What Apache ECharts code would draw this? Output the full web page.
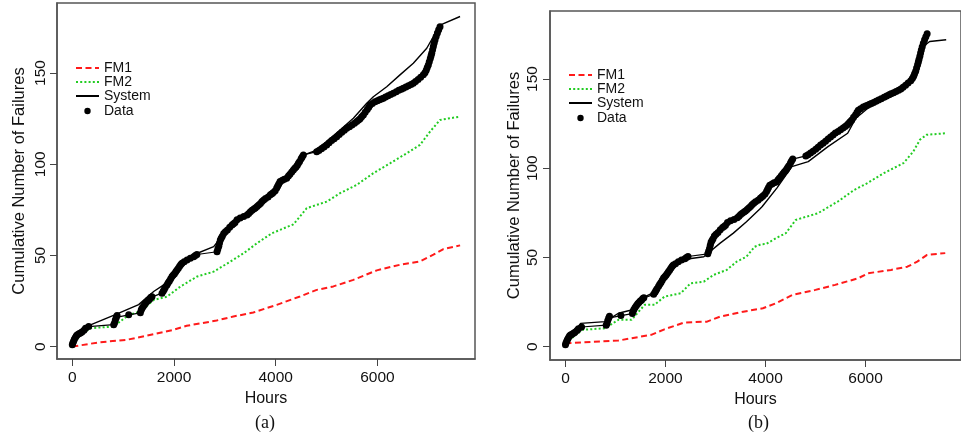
<!DOCTYPE html>
<html>
<head>
<meta charset="utf-8">
<script src="https://cdn.jsdelivr.net/npm/echarts@6/dist/echarts.min.js"></script>
<style>
html,body{margin:0;padding:0;background:#fff;}
#c{width:961px;height:439px;}
</style>
</head>
<body>
<div id="c"></div>
<script>
// ---- Data ----
const dataHours = [0, 10, 25, 40, 60, 80, 100, 130, 160, 190, 230, 260, 322,
  814, 830, 846, 865, 880, 1109, 1338, 1355, 1371, 1395, 1420, 1445, 1469, 1495, 1520, 1545, 1567,
  1764, 1790, 1810, 1830, 1862, 1885, 1910, 1935, 1961, 1985, 2010, 2035, 2059, 2085, 2110, 2135, 2157, 2200, 2256, 2320, 2387, 2420, 2450,
  2846, 2862, 2880, 2895, 2911, 2930, 2950, 2977, 3010, 3050, 3095, 3141, 3170, 3200, 3239, 3300, 3370, 3436, 3470, 3502, 3535, 3570, 3600, 3633, 3665, 3700, 3730, 3764, 3800, 3850, 3895, 3925, 3953, 3990, 4020, 4040, 4060, 4085, 4130, 4170, 4216, 4250, 4280, 4315, 4347, 4375, 4400, 4425, 4446, 4470, 4500, 4520, 4544,
  4806, 4850, 4900, 4950, 5003, 5050, 5100, 5150, 5200, 5250, 5300, 5350, 5396, 5450, 5500, 5550, 5593, 5630, 5660, 5690, 5724, 5760, 5800, 5830, 5855, 5900, 5953,
  6000, 6040, 6080, 6117, 6160, 6210, 6260, 6313, 6370, 6420, 6470, 6510, 6560, 6610, 6660, 6706, 6750, 6800, 6850, 6903, 6935, 6960, 6980, 7001, 7020, 7040, 7055, 7068, 7085, 7100, 7115, 7133, 7155, 7180, 7205, 7231];
const dataFailures = [1, 2, 3, 4, 5, 6, 6.5, 7, 7.5, 8, 9, 10, 11,
  12, 13, 14.6, 16, 17, 17.4, 18.5, 20, 21, 22, 23, 24, 24.7, 25.5, 26, 27, 27.4,
  29.3, 30.5, 31.5, 32.5, 33.8, 35, 36, 37.2, 38.4, 39.2, 40, 41, 42, 43, 44, 45, 45.7, 46.5, 47.5, 48.5, 49.3, 50, 50.5,
  52, 53.5, 55, 56.8, 58.5, 59.5, 60.5, 62, 63, 64, 65.5, 66.7, 67.3, 68, 69.5, 70.5, 71.3, 72.2, 73, 74, 74.8, 75.5, 76, 76.8, 77.7, 78.5, 79.5, 80.4, 81.2, 82, 83.2, 83.8, 84.5, 85.5, 87, 88, 89.2, 90.5, 91.2, 91.8, 92.3, 93.5, 94.5, 95.8, 96.9, 97.8, 98.5, 99.5, 100.5, 101.5, 103, 104, 105.1,
  106.9, 107.5, 108.5, 109.5, 110.6, 111.8, 113, 114, 115.1, 116.3, 117.5, 118.6, 119.7, 120.6, 121.5, 122.5, 123.4, 124.2, 125, 126, 127, 128.5, 130, 131.3, 132.5, 133.3, 134.3,
  134.8, 135.3, 135.8, 136.2, 136.8, 137.5, 138.2, 138.9, 139.7, 140.5, 141.1, 141.7, 142.3, 143, 143.7, 144.4, 145.4, 146.5, 147.7, 149, 150.2, 151.5, 153, 154.4, 156.2, 158, 159.5, 160.9, 162.7, 164.5, 166.3, 168.1, 170, 172, 173.7, 175.4];

// Panel (a)
const fm1aHours = [0, 544, 1069, 1593, 1987, 2249, 2839, 3167, 3560, 4020, 4478, 4806, 5134, 5528, 5987, 6446, 6839, 7101, 7298, 7626];
const fm1aVals  = [0, 2.4, 3.7, 6.8, 9.2, 11.4, 14.3, 16.5, 18.7, 22.9, 27.5, 31.1, 33, 36.6, 41.8, 44.9, 46.7, 50.4, 53.5, 55.5];
const fm2aHours = [0, 157, 354, 814, 1109, 1338, 1600, 1862, 2124, 2452, 2780, 3108, 3370, 3633, 3928, 4347, 4610, 5003, 5265, 5593, 5920, 6248, 6576, 6838, 7035, 7231, 7625];
const fm2aVals  = [0.5, 6.4, 10.1, 11, 17.4, 19.2, 25.6, 27.4, 32.9, 38.4, 41.1, 46.6, 51.2, 56.7, 62.2, 67, 75.9, 79.5, 84.1, 88.7, 95.1, 100.5, 106, 110.6, 117.9, 124.3, 126.1];
const sysaHours = [0, 100, 322, 846, 1305, 1600, 1797, 1960, 2150, 2400, 2780, 2900, 3100, 3400, 3700, 4000, 4300, 4544, 4740, 5003, 5265, 5527, 5790, 5920, 6183, 6444, 6706, 6970, 7231, 7625];
const sysaVals  = [0, 6, 11.5, 17.5, 23, 30.2, 33.8, 39, 45, 50.5, 54.8, 59, 65, 72, 79, 85, 95, 105, 107, 112.4, 118.8, 125.2, 133.4, 137, 142.5, 149, 155.4, 163.6, 176.3, 181];

// Panel (b)
const fm1bHours = [0, 1058, 1714, 1978, 2372, 2831, 3093, 3554, 3948, 4210, 4539, 4998, 5392, 5851, 6048, 6509, 6836, 7033, 7230, 7593];
const fm1bVals  = [1.9, 3.4, 6.6, 9.7, 13.5, 14, 16.8, 19.6, 21.5, 24.3, 29, 31.8, 34.6, 38.3, 41.1, 43, 44.8, 47.6, 51.4, 52.4];
const fm2bHours = [0, 335, 796, 1058, 1320, 1584, 1781, 1978, 2305, 2502, 2766, 2963, 3225, 3422, 3619, 3783, 3914, 4013, 4210, 4407, 4604, 5051, 5445, 5772, 6035, 6363, 6757, 6954, 7086, 7218, 7612];
const fm2bVals  = [2, 9.4, 10.3, 15, 15, 23.4, 23.4, 28, 29.9, 35.5, 36.4, 40.2, 43, 47.6, 50.4, 56, 57.4, 57.5, 60.8, 63.6, 71, 74.8, 81.3, 87.8, 91.6, 97.2, 102.8, 109.3, 115.9, 118.7, 119.6];
const sysbHours = [0, 303, 796, 1058, 1320, 1517, 1781, 1978, 2141, 2403, 2766, 3093, 3357, 3619, 3881, 3934, 4230, 4525, 4854, 5248, 5642, 5806, 6166, 6430, 6725, 6988, 7120, 7185, 7283, 7612];
const sysbVals  = [0, 13, 14, 18.7, 20.5, 27, 30.5, 38, 44, 49, 50.4, 58, 63.6, 70, 77, 78.5, 89, 100.9, 103.7, 112.1, 119.6, 128, 136.4, 139, 145, 150, 163, 169, 171, 172];

// Axis ticks and labels
const xTicks = [0, 2000, 4000, 6000];
const yTicks = [0, 50, 100, 150];
const seriesNames = ['FM1', 'FM2', 'System', 'Data'];
const panelLabels = ['(a)', '(b)'];
const xName = 'Hours';
const yName = 'Cumulative Number of Failures';

// ---- Build ----
const zip = (xs, ys) => xs.map((x, i) => [x, ys[i]]);
const FONT = '"Liberation Sans", Arial, sans-serif';
const RED = '#ff1a1a', GREEN = '#22cc22', BLACK = '#000000';

function xAxis(gi, min, max) {
  return {
    type: 'value', gridIndex: gi, min: min, max: max, position: 'bottom',
    name: xName, nameLocation: 'middle', nameGap: 30,
    nameTextStyle: { fontFamily: FONT, fontSize: 16, color: '#111' },
    axisLine: { show: true, onZero: false, lineStyle: { color: '#555', width: 1.5 } },
    axisTick: { show: true, inside: false, length: 7, customValues: xTicks, lineStyle: { color: '#444', width: 1 } },
    axisLabel: { show: true, customValues: xTicks, margin: 11, fontFamily: FONT, fontSize: 15.5, color: '#111',
      formatter: v => String(v) },
    splitLine: { show: false }
  };
}
function yAxis(gi, min, max, gap, margin) {
  return {
    type: 'value', gridIndex: gi, min: min, max: max, position: 'left',
    name: yName, nameLocation: 'middle', nameGap: gap, nameRotate: 90,
    nameTextStyle: { fontFamily: FONT, fontSize: 16.5, color: '#111' },
    axisLine: { show: true, onZero: false, lineStyle: { color: '#555', width: 1.5 } },
    axisTick: { show: true, inside: false, length: 7, customValues: yTicks, lineStyle: { color: '#444', width: 1 } },
    axisLabel: { show: true, rotate: 90, customValues: yTicks, margin: margin, fontFamily: FONT, fontSize: 15.5, color: '#111',
      formatter: v => String(v) },
    splitLine: { show: false }
  };
}
function panelSeries(gi, fm1, fm2, sys) {
  return [
    { name: seriesNames[0], type: 'line', xAxisIndex: gi, yAxisIndex: gi, data: fm1, symbol: 'none',
      lineStyle: { color: RED, width: 2, type: [6, 3.5] }, itemStyle: { color: RED }, z: 3 },
    { name: seriesNames[1], type: 'line', xAxisIndex: gi, yAxisIndex: gi, data: fm2, symbol: 'none',
      lineStyle: { color: GREEN, width: 2, type: [2, 2.2] }, itemStyle: { color: GREEN }, z: 3 },
    { name: seriesNames[3], type: 'line', xAxisIndex: gi, yAxisIndex: gi, data: zip(dataHours, dataFailures),
      symbol: 'circle', symbolSize: 7, showSymbol: true, showAllSymbol: true,
      lineStyle: { color: BLACK, width: 1.2 }, itemStyle: { color: BLACK }, z: 4 },
    { name: seriesNames[2], type: 'line', xAxisIndex: gi, yAxisIndex: gi, data: sys, symbol: 'none',
      lineStyle: { color: BLACK, width: 1.4 }, itemStyle: { color: BLACK }, z: 5 }
  ];
}
function legends(left, top) {
  const base = {
    orient: 'vertical', left: left, itemWidth: 23, itemGap: 0, padding: 0,
    textStyle: { fontFamily: FONT, fontSize: 14, color: '#111' }, selectedMode: false
  };
  return [
    Object.assign({}, base, { top: top, itemHeight: 14,
      data: [seriesNames[0], seriesNames[1], seriesNames[2]].map(n => ({ name: n, itemStyle: { opacity: 0 } })) }),
    Object.assign({}, base, { top: top + 43, itemHeight: 8,
      lineStyle: { opacity: 0 },
      data: [{ name: seriesNames[3] }] })
  ];
}

const chart = echarts.init(document.getElementById('c'), null, { renderer: 'canvas' });
chart.setOption({
  animation: false,
  backgroundColor: '#ffffff',
  grid: [
    { left: 57, top: 3, width: 418, height: 356, show: true, borderColor: '#555', borderWidth: 1.5, backgroundColor: 'transparent' },
    { left: 550, top: 11, width: 417, height: 349, show: true, borderColor: '#555', borderWidth: 1.5, backgroundColor: 'transparent' }
  ],
  xAxis: [xAxis(0, -301, 7919), xAxis(1, -309, 7908)],
  yAxis: [yAxis(0, -6.8, 188.4, 29, 8), yAxis(1, -7.5, 188.1, 27, 9)],
  legend: legends(75, 61).concat(legends(568, 68)),
  series: panelSeries(0, zip(fm1aHours, fm1aVals), zip(fm2aHours, fm2aVals), zip(sysaHours, sysaVals))
    .concat(panelSeries(1, zip(fm1bHours, fm1bVals), zip(fm2bHours, fm2bVals), zip(sysbHours, sysbVals))),
  graphic: [
    { type: 'text', left: 267 - 12, top: 414, style: { text: panelLabels[0], font: '18px "Liberation Serif", "Times New Roman", serif', fill: '#111' } },
    { type: 'text', left: 760 - 12, top: 414, style: { text: panelLabels[1], font: '18px "Liberation Serif", "Times New Roman", serif', fill: '#111' } }
  ]
});
</script>
</body>
</html>
